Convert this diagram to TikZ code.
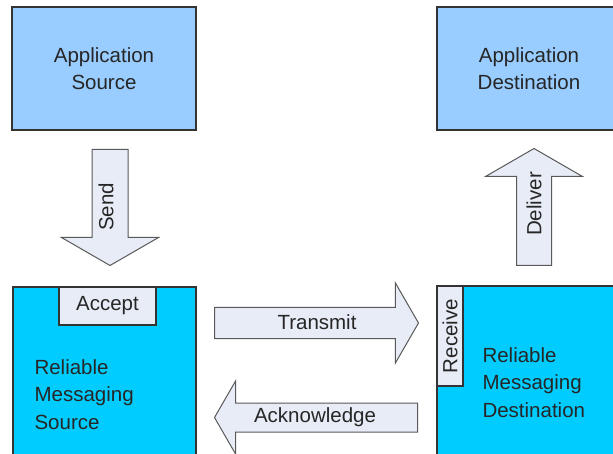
\documentclass[tikz,border=0pt]{standalone}
\usepackage{fontspec}
\setmainfont{Liberation Sans}
\usetikzlibrary{shapes.arrows}

\definecolor{appblue}{HTML}{99CCFF}
\definecolor{rmcyan}{HTML}{00CCFF}
\definecolor{arrowfill}{HTML}{E8ECF6}
\definecolor{edgegray}{HTML}{333333}

\begin{document}
\begin{tikzpicture}[x=1pt,y=-1pt,
    every node/.style={font=\fontsize{20.5}{27.5}\selectfont, text=black!85},
    box/.style={draw=edgegray, line width=1.5pt, inner sep=0pt},
    tab/.style={draw=edgegray, line width=1.2pt, fill=arrowfill, inner sep=0pt},
    blockarrow/.style={single arrow, draw=black!65, line width=1pt, fill=arrowfill,
        inner sep=0pt, single arrow tip angle=120, anchor=tail},
  ]
        \clip (0,0) rectangle (613,454);

        \node[box, fill=appblue, minimum width=184pt, minimum height=123pt, align=center] (appsrc) at (104,68.5) {Application\\Source};
        \node[box, fill=appblue, minimum width=184pt, minimum height=123pt, align=center] (appdst) at (529,68.5) {Application\\Destination};
        \node[box, fill=rmcyan, minimum width=183pt, minimum height=180pt] (rmsrc) at (104.5,377) {};
        \node[box, fill=rmcyan, minimum width=184pt, minimum height=180pt] (rmdst) at (529,376) {};

        \node[tab, minimum width=97pt, minimum height=38pt] (accept) at (107.5,306) {Accept};
        \node[tab, rotate=90, minimum width=100pt, minimum height=26pt] (receive) at (450,336) {Receive};

        \node[anchor=west, align=left] (rmsrctext) at (31,394.5) {Reliable\\Messaging\\Source};
        \node[anchor=west, align=left] (rmdsttext) at (479,382.5) {Reliable\\Messaging\\Destination};

        \node[blockarrow, rotate=-90, minimum height=116pt, inner ysep=17.5pt, single arrow head extend=30.5pt] (send) at (110,149) {};
        \node[blockarrow, rotate=90, minimum height=117pt, inner ysep=17pt, single arrow head extend=31pt] (deliver) at (534,266) {};
        \node[blockarrow, minimum height=204pt, inner ysep=15pt, single arrow head extend=24.5pt] (transmit) at (214,323) {};
        \node[blockarrow, rotate=180, minimum height=203pt, inner ysep=14pt, single arrow head extend=22pt] (ack) at (418,417.5) {};

        \node[rotate=90] (sendlbl) at (106,207) {Send};
        \node[rotate=90] (deliverlbl) at (534,204) {Deliver};
        \node (transmitlbl) at (317,322) {Transmit};
        \node (acklbl) at (315,417) {Acknowledge};

    \end{tikzpicture}
\end{document}
